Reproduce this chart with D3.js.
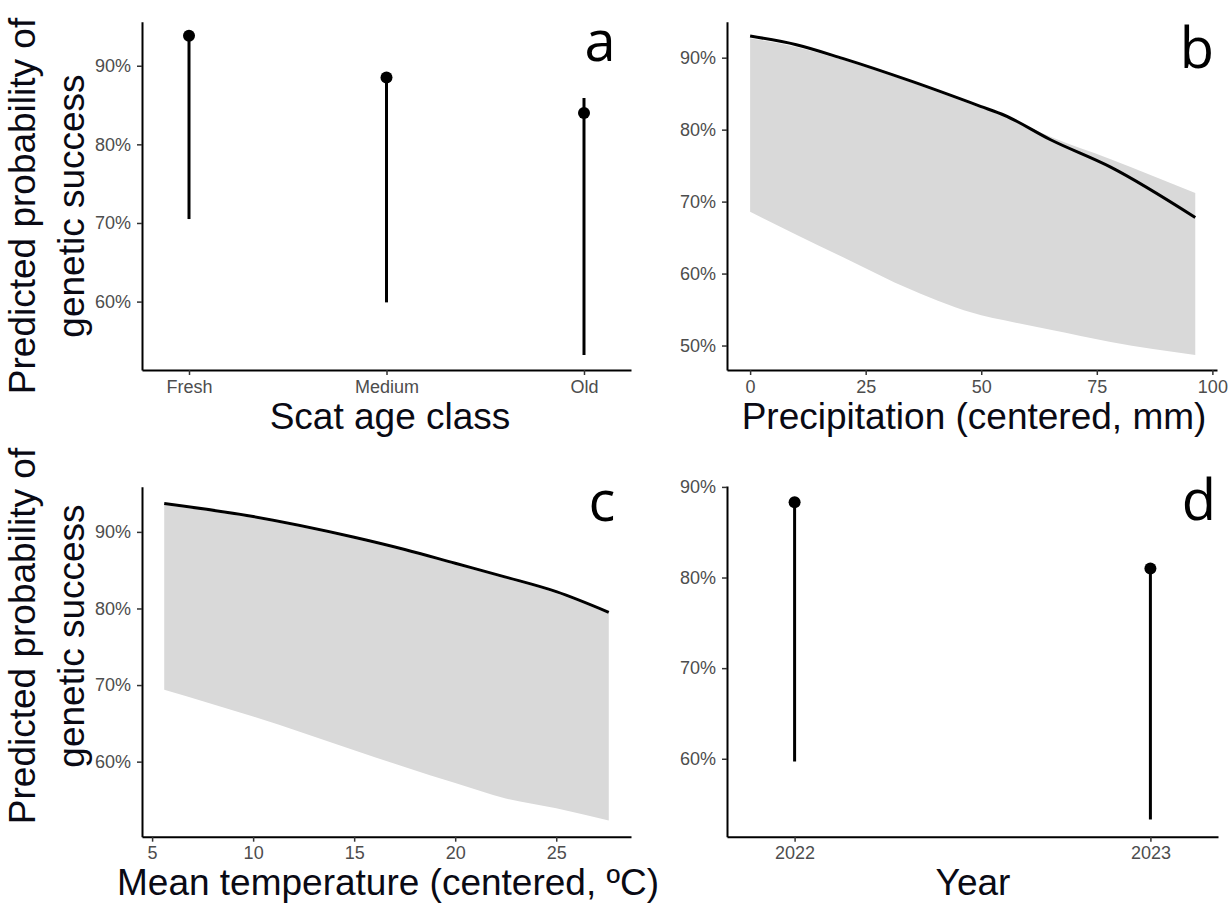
<!DOCTYPE html>
<html>
<head>
<meta charset="utf-8">
<script src="https://cdn.jsdelivr.net/npm/d3@7"></script>
<style>
  body { margin: 0; background: #fff; }
  svg text { font-family: "Liberation Sans", Arial, sans-serif; }
</style>
</head>
<body>
<svg id="chart"></svg>
<script>
// Données (en %)
const ageClasses = ["Fresh", "Medium", "Old"];
const ageFit = [93.8, 88.5, 84.0];
const ageLow = [70.5, 59.9, 53.2];
const ageHigh = [93.8, 88.5, 85.9];

const precipX = [0, 10, 20, 35, 50, 55, 65, 78, 96.3];
const precipFit = [93.0, 91.8, 89.9, 86.7, 83.2, 82.0, 78.6, 74.8, 67.8];
const precipLow = [68.6, 65.4, 62.3, 57.7, 54.2, 53.5, 52.2, 50.5, 48.7];
const precipHigh = [92.7, 91.5, 89.7, 86.5, 83.0, 81.9, 79.0, 75.9, 71.2];

const tempX = [5.6, 10, 15, 17.5, 20, 22.5, 25, 27.6];
const tempFit = [93.7, 92.0, 89.3, 87.7, 85.9, 84.1, 82.2, 79.5];
const tempLow = [69.4, 65.9, 61.5, 59.3, 57.2, 55.2, 53.9, 52.3];
const tempHigh = [93.5, 91.8, 89.1, 87.5, 85.7, 83.9, 82.0, 79.3];

const years = ["2022", "2023"];
const yearFit = [88.3, 81.0];
const yearLow = [59.7, 53.3];
const yearHigh = [88.3, 81.0];

const pctTicksA = [60, 70, 80, 90];
const pctTicksB = [50, 60, 70, 80, 90];
const precipTicks = [0, 25, 50, 75, 100];
const tempTicks = [5, 10, 15, 20, 25];

const width = 1228, height = 906;
const svg = d3.select("#chart").attr("width", width).attr("height", height);

const tickColor = "#333";
const labelColor = "#4d4d4d";

// Axes communs
function drawAxes(g, x, y, yTicks, xTicks, xFormat) {
    const yAxis = d3.axisLeft(y).tickValues(yTicks).tickFormat(d => d + "%")
        .tickSize(5).tickSizeOuter(0).tickPadding(6);
    const gy = g.append("g").attr("transform", `translate(${x.range()[0]},0)`).call(yAxis);

    const xAxis = d3.axisBottom(x).tickSize(5).tickSizeOuter(0).tickPadding(5);
    if (xTicks) xAxis.tickValues(xTicks);
    if (xFormat) xAxis.tickFormat(xFormat);
    const gx = g.append("g").attr("transform", `translate(0,${y.range()[0]})`).call(xAxis);

    [gx, gy].forEach(a => {
        a.select(".domain").attr("stroke", "#000").attr("stroke-width", 2);
        a.selectAll(".tick line").attr("stroke", tickColor).attr("stroke-width", 1.5);
        a.selectAll(".tick text").attr("fill", labelColor).attr("font-size", "18px");
    });
}

function xTitle(text, cx, baseline) {
    svg.append("text")
        .attr("x", cx).attr("y", baseline)
        .attr("text-anchor", "middle")
        .attr("font-size", "37px")
        .attr("fill", "#0a0a14")
        .text(text);
}

function panelLetter(letter, cx, baseline) {
    svg.append("text")
        .attr("x", cx).attr("y", baseline)
        .attr("text-anchor", "middle")
        .attr("font-size", "56px")
        .style("font-family", "'Open Sans', sans-serif")
        .attr("fill", "#000")
        .text(letter);
}

function yTitle(cy) {
    const t = svg.append("g").attr("transform", `translate(0,${cy}) rotate(-90)`);
    t.append("text").attr("x", 0).attr("y", 35)
        .attr("text-anchor", "middle").attr("font-size", "37px").attr("fill", "#0a0a14")
        .text("Predicted probability of");
    t.append("text").attr("x", 0).attr("y", 84)
        .attr("text-anchor", "middle").attr("font-size", "37px").attr("fill", "#0a0a14")
        .text("genetic success");
}

// Barres d'erreur + points
function drawIntervals(g, x, y, cats, fit, low, high) {
    g.append("g").selectAll("line")
        .data(cats)
        .enter().append("line")
        .attr("x1", d => x(d)).attr("x2", d => x(d))
        .attr("y1", (d, i) => y(low[i]))
        .attr("y2", (d, i) => y(high[i]))
        .attr("stroke", "#000")
        .attr("stroke-width", 3);
    g.append("g").selectAll("circle")
        .data(cats)
        .enter().append("circle")
        .attr("cx", d => x(d))
        .attr("cy", (d, i) => y(fit[i]))
        .attr("r", 6)
        .attr("fill", "#000");
}

// Courbe + ruban
function drawRibbon(g, x, y, xs, fit, low, high) {
    const area = d3.area()
        .x(i => x(xs[i]))
        .y0(i => y(low[i]))
        .y1(i => y(high[i]))
        .curve(d3.curveMonotoneX);
    const line = d3.line()
        .x(i => x(xs[i]))
        .y(i => y(fit[i]))
        .curve(d3.curveMonotoneX);
    const idx = d3.range(xs.length);
    g.append("path").attr("d", area(idx)).attr("fill", "#d9d9d9");
    g.append("path").attr("d", line(idx)).attr("fill", "none")
        .attr("stroke", "#000").attr("stroke-width", 3);
}

// Panneau a
const xA = d3.scalePoint().domain(ageClasses).range([142, 631]).padding(0.238);
const yA = d3.scaleLinear().domain([51.3, 95.6]).range([370, 21.7]);
const gA = svg.append("g");
drawIntervals(gA, xA, yA, ageClasses, ageFit, ageLow, ageHigh);
drawAxes(gA, xA, yA, pctTicksA);
xTitle("Scat age class", 390, 429);
panelLetter("a", 600, 61);

// Panneau b
const xB = d3.scaleLinear().domain([-5, 101]).range([727, 1217]);
const yB = d3.scaleLinear().domain([46.6, 95.0]).range([370, 21.7]);
const gB = svg.append("g");
drawRibbon(gB, xB, yB, precipX, precipFit, precipLow, precipHigh);
drawAxes(gB, xB, yB, pctTicksB, precipTicks, d3.format("d"));
xTitle("Precipitation (centered, mm)", 974, 429);
panelLetter("b", 1197, 68);

// Panneau c
const xC = d3.scaleLinear().domain([4.5, 28.7]).range([142, 631]);
const yC = d3.scaleLinear().domain([50.2, 95.9]).range([836.7, 486.7]);
const gC = svg.append("g");
drawRibbon(gC, xC, yC, tempX, tempFit, tempLow, tempHigh);
drawAxes(gC, xC, yC, pctTicksA, tempTicks, d3.format("d"));
xTitle("Mean temperature (centered, ºC)", 388, 895);
panelLetter("c", 602, 521);

// Panneau d
const xD = d3.scalePoint().domain(years).range([727, 1218]).padding(0.19);
const yD = d3.scaleLinear().domain([51.4, 90.1]).range([836.7, 486]);
const gD = svg.append("g");
drawIntervals(gD, xD, yD, years, yearFit, yearLow, yearHigh);
drawAxes(gD, xD, yD, pctTicksA);
xTitle("Year", 973, 895);
panelLetter("d", 1199, 520);

// Titres de l'axe y
yTitle(206);
yTitle(636);
</script>
</body>
</html>
